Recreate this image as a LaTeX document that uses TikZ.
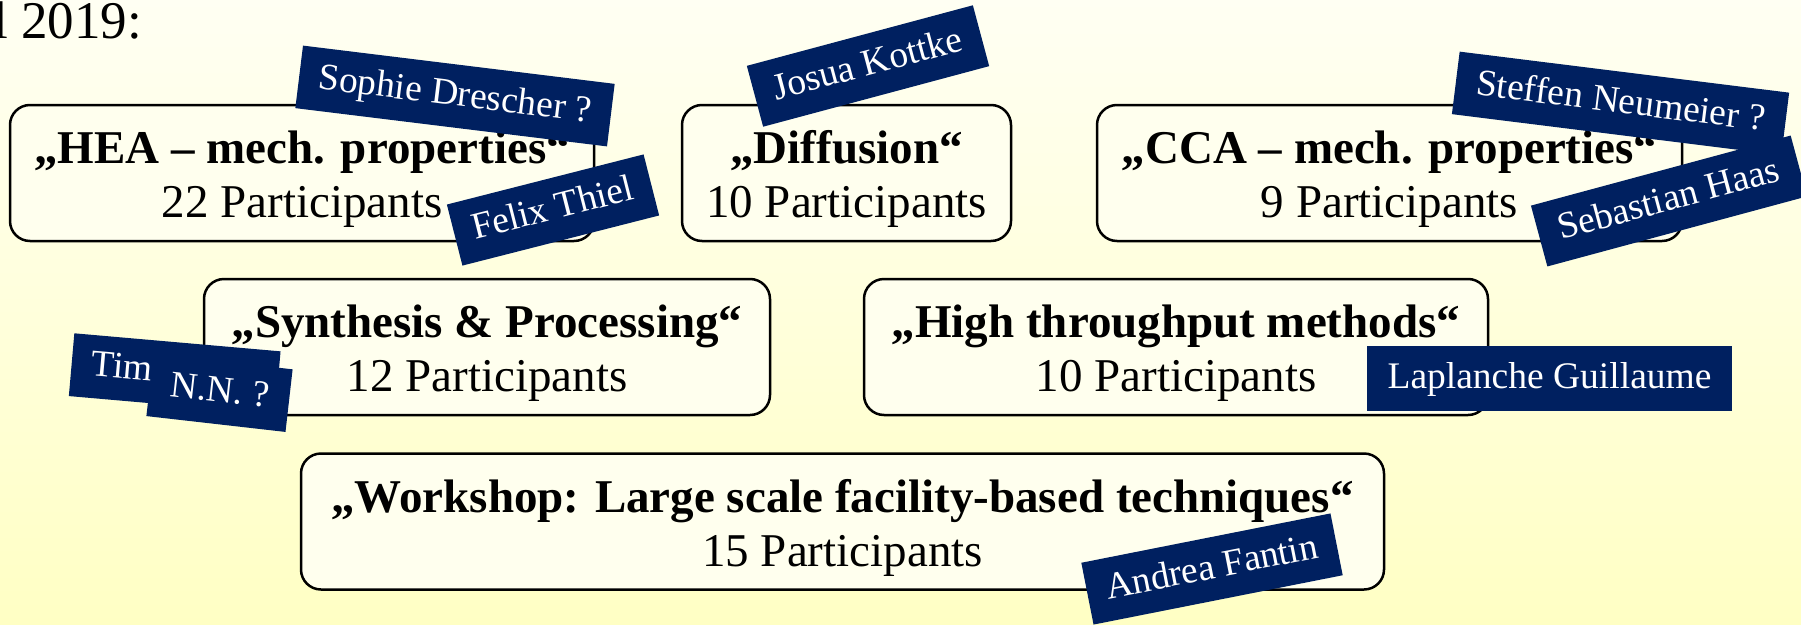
\documentclass[tikz,border=0pt]{standalone}
\usepackage{fontspec}
\setmainfont{Liberation Serif}
\usetikzlibrary{calc}
\definecolor{navy}{RGB}{0,32,96}
\definecolor{bgtop}{RGB}{255,255,243}
\definecolor{bgbot}{RGB}{255,255,196}
\definecolor{boxfill}{RGB}{255,255,238}
\begin{document}
\begin{tikzpicture}[x=1pt,y=-1pt,
  topic/.style={draw=black, line width=2.5pt, rounded corners=20pt, fill=boxfill, inner sep=0pt},
  ttl/.style={anchor=base, font=\fontsize{47}{56}\selectfont\bfseries, inner sep=0pt},
  sub/.style={anchor=base, font=\fontsize{47}{56}\selectfont, inner sep=0pt},
  tag/.style={fill=navy, text=white, font=\fontsize{37.5}{40}\selectfont, inner sep=0pt,
              minimum height=63pt, text height=27pt, text depth=8pt},
]
\useasboundingbox (0,0) rectangle (1801,624);
\shade[top color=bgtop, bottom color=bgbot] (0,0) rectangle (1801,624);

\node[anchor=base west, inner sep=0pt, font=\fontsize{53}{60}\selectfont] (date) at (-7,38) {l 2019:};

% topic boxes
\node[topic, minimum width=584pt, minimum height=136pt] (hea) at (302,173) {};
\node[topic, minimum width=329pt, minimum height=136pt] (dif) at (846.5,173) {};
\node[topic, minimum width=585pt, minimum height=136pt] (cca) at (1389.5,173) {};
\node[topic, minimum width=566pt, minimum height=136pt] (syn) at (487,347) {};
\node[topic, minimum width=624pt, minimum height=136pt] (hig) at (1176,347) {};
\node[topic, minimum width=1083pt, minimum height=136pt] (wor) at (842.5,521.5) {};

\foreach \b/\t/\s in {hea/{„HEA – mech. properties“}/{22 Participants},
                      dif/{„Diffusion“}/{10 Participants},
                      cca/{„CCA – mech. properties“}/{9 Participants},
                      syn/{„Synthesis \& Processing“}/{12 Participants},
                      hig/{„High throughput methods“}/{10 Participants},
                      wor/{„Workshop: Large scale facility-based techniques“}/{15 Participants}}{
  \node[ttl] (\b-t) at ($(\b.north)+(0,60)$) {\t};
  \node[sub] (\b-s) at ($(\b.north)+(0,114)$) {\s};
}

% name tags
\node[tag, minimum width=314pt, rotate=-7] (sophie) at (455,96) {Sophie Drescher ?};
\node[tag, minimum width=203pt, rotate=14.3] (felix) at (553,210) {Felix Thiel};
\node[tag, minimum width=234pt, rotate=15] (josua) at (868,66) {Josua Kottke};
\node[tag, minimum width=332pt, rotate=-7.1] (steffen) at (1620.5,103.4) {Steffen Neumeier ?};
\node[tag, minimum width=269pt, rotate=15.1] (sebastian) at (1669,201) {Sebastian Haas};
\node[tag, minimum width=207pt, text width=167pt, align=left, inner xsep=20pt, rotate=-5] (tim) at (174.7,373.7) {Tim};
\node[tag, minimum width=140pt, rotate=-6.5] (nn) at (219.5,392.7) {N.N. ?};
\node[tag, minimum width=365pt, minimum height=65pt] (laplanche) at (1549.5,378.5) {Laplanche Guillaume};
\node[tag, minimum width=254pt, rotate=11.2] (andrea) at (1212,569) {Andrea Fantin};
\end{tikzpicture}
\end{document}
